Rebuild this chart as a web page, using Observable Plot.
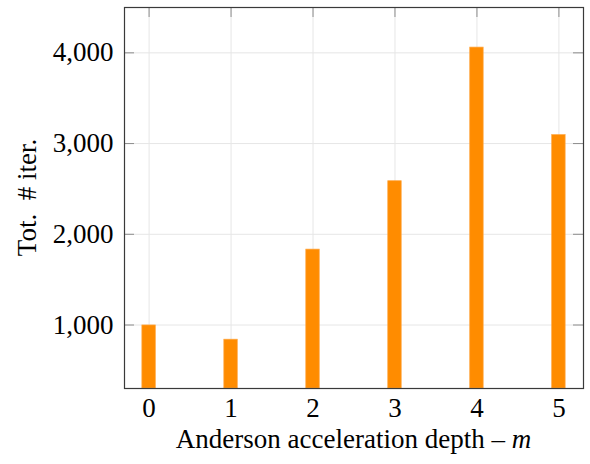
<!DOCTYPE html>
<html>
<head>
<meta charset="utf-8">
<script src="https://cdn.jsdelivr.net/npm/d3@7"></script>
<script src="https://cdn.jsdelivr.net/npm/@observablehq/plot@0.6"></script>
<style>
  body { margin: 0; background: #fff; }
  #chart svg { display: block; }
</style>
</head>
<body>
<div id="chart"></div>
<script>
// Total iterations per Anderson acceleration depth
const depths = [0, 1, 2, 3, 4, 5];
const iterations = [995, 838, 1831, 2585, 4058, 3093];
const yTicks = [1000, 2000, 3000, 4000];
const xLabelText = "Anderson acceleration depth \u2013 ";
const xLabelVar = "m";
const yLabelText = "Tot.\u00a0 # iter.";

const data = depths.map((m, i) => ({ m, iter: iterations[i] }));

const W = 590, H = 464;
const ml = 124, mr = 7, mt = 7, mb = 76;
const fw = W - ml - mr, fh = H - mt - mb;
const yMin = 300, yMax = 4500;
const barHalf = 0.082;
const tickLen = 10;
const fontSize = 27;
const font = "'Liberation Serif', 'Times New Roman', serif";

const plot = Plot.plot({
  width: W,
  height: H,
  marginLeft: ml,
  marginRight: mr,
  marginTop: mt,
  marginBottom: mb,
  style: { fontFamily: font, fontSize: `${fontSize}px`, color: "#000", background: "#fff" },
  x: { domain: [-0.3, 5.3] },
  y: { domain: [yMin, yMax] },
  marks: [
    Plot.gridX(depths, { stroke: "#e6e6e6", strokeOpacity: 1 }),
    Plot.gridY(yTicks, { stroke: "#e6e6e6", strokeOpacity: 1 }),
    // inward ticks on all four sides
    Plot.tickY(yTicks, { y: d => d, stroke: "#8c8c8c", insetRight: fw - tickLen }),
    Plot.tickY(yTicks, { y: d => d, stroke: "#8c8c8c", insetLeft: fw - tickLen }),
    Plot.tickX(depths, { x: d => d, stroke: "#8c8c8c", insetBottom: fh - tickLen }),
    Plot.tickX(depths, { x: d => d, stroke: "#8c8c8c", insetTop: fh - tickLen }),
    Plot.rectY(data, {
      x1: d => d.m - barHalf,
      x2: d => d.m + barHalf,
      y1: yMin,
      y2: "iter",
      fill: "#ff8c00",
      stroke: "#ffa640",
      strokeWidth: 0.7
    }),
    Plot.axisY(yTicks, {
      tickSize: 0, tickPadding: 11, fontSize, fill: "#000",
      tickFormat: d3.format(","), label: null
    }),
    Plot.axisX(depths, {
      tickSize: 0, tickPadding: 9.5, fontSize, fill: "#000",
      tickFormat: d => String(d), label: null
    }),
    Plot.frame({ stroke: "#3a3a3a", strokeWidth: 1.2 })
  ]
});

const svg = d3.select(plot);
const xl = svg.append("text")
  .attr("x", ml + fw / 2)
  .attr("y", 448)
  .attr("text-anchor", "middle")
  .attr("font-family", font)
  .attr("font-size", fontSize)
  .attr("fill", "#000");
xl.append("tspan").text(xLabelText);
xl.append("tspan").attr("font-style", "italic").text(xLabelVar);

svg.append("text")
  .attr("transform", `translate(36,${mt + fh / 2}) rotate(-90)`)
  .attr("text-anchor", "middle")
  .attr("font-family", font)
  .attr("font-size", fontSize)
  .attr("fill", "#000")
  .text(yLabelText);

document.getElementById("chart").appendChild(plot);
</script>
</body>
</html>
